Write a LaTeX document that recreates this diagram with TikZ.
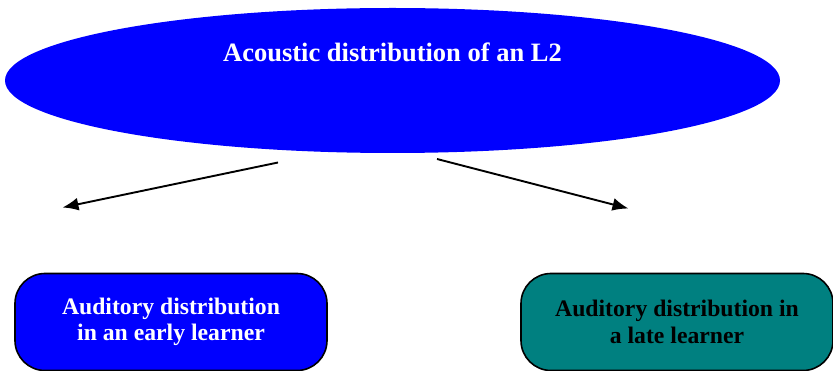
\documentclass[tikz,border=0pt]{standalone}
\usepackage{fontspec}
\setmainfont{Liberation Serif}
\usetikzlibrary{shapes.geometric,arrows.meta}
\definecolor{pureblue}{RGB}{0,0,255}
\definecolor{tealbox}{RGB}{0,128,128}
\begin{document}
\begin{tikzpicture}[x=1pt,y=-1pt,
  bigoval/.style={ellipse,fill=pureblue,draw=none,inner sep=0pt,
    minimum width=775pt,minimum height=145pt},
  learnerbox/.style={draw=black,line width=1.6pt,rounded corners=30pt,
    minimum width=312pt,minimum height=97pt,inner sep=0pt,align=center,
    font=\bfseries\fontsize{23.7}{26.5}\selectfont},
  linkarrow/.style={line width=1.9pt,-{Latex[length=16pt,width=13pt]}}]
  \useasboundingbox (0,0) rectangle (833,371);

  % top oval with its heading
  \node[bigoval] (acoustic) at (392.5,80.5) {};
  \node[anchor=base,text=white,inner sep=0pt,
    font=\bfseries\fontsize{26.5}{30}\selectfont] (acoustictext) at (392.5,62)
    {Acoustic distribution of an L2};

  % the two learner boxes
  \node[learnerbox,fill=pureblue,text=white] (early) at (171,322)
    {Auditory distribution\\in an early learner};
  \node[learnerbox,fill=tealbox,text=black] (late) at (677,322)
    {Auditory distribution in\\a late learner};

  % free-standing arrows below the oval
  \coordinate (lstart) at (278,162.5);
  \coordinate (lend) at (62.5,207.5);
  \coordinate (rstart) at (437,159);
  \coordinate (rend) at (628.5,208.5);
  \draw[linkarrow] (lstart) -- (lend);
  \draw[linkarrow] (rstart) -- (rend);
\end{tikzpicture}
\end{document}
